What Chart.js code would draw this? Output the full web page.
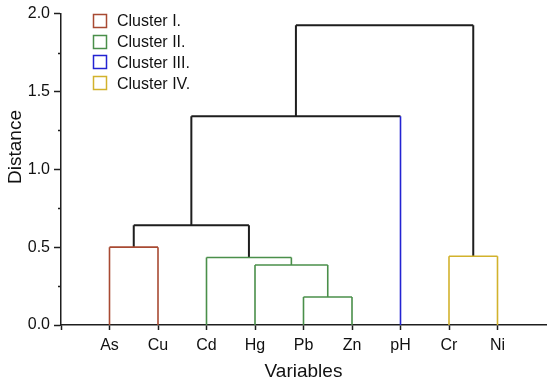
<!DOCTYPE html>
<html>
<head>
<meta charset="utf-8">
<script src="https://cdn.jsdelivr.net/npm/chart.js@4.4.1/dist/chart.umd.min.js"></script>
<style>
  html, body { margin: 0; padding: 0; background: #fff; }
  #wrap { width: 550px; height: 386px; position: relative; }
</style>
</head>
<body>
<div id="wrap"><canvas id="myChart"></canvas></div>
<script>
// Variabelen op de x-as (bladeren van het dendrogram)
const variables = ['As', 'Cu', 'Cd', 'Hg', 'Pb', 'Zn', 'pH', 'Cr', 'Ni'];
// Cluster per variabele
const leafCluster = [0, 0, 1, 1, 1, 1, 2, 3, 3];
// Samenvoegingen: linker kind, rechter kind, afstand (nieuwe knopen krijgen index 9, 10, ...)
const mergeLeft   = [0, 4, 3, 2, 9, 7, 13, 15];
const mergeRight  = [1, 5, 10, 11, 12, 8, 6, 14];
const mergeHeight = [0.50, 0.18, 0.385, 0.434, 0.641, 0.442, 1.34, 1.925];
// Legenda
const clusterNames = ['Cluster I.', 'Cluster II.', 'Cluster III.', 'Cluster IV.'];
const clusterColors = ['#a84a32', '#4a8f4a', '#2323d2', '#d2b22c'];
const yTicks = [0, 0.5, 1.0, 1.5, 2.0];

document.addEventListener("DOMContentLoaded", function() {
    const black = '#1e1e1e';
    const n = variables.length;

    // Positie, hoogte en cluster van elke knoop
    const nodeX = variables.map((v, i) => i + 1);
    const nodeH = variables.map(() => 0);
    const nodeC = leafCluster.slice();
    mergeLeft.forEach((a, k) => {
        const b = mergeRight[k];
        nodeX.push((nodeX[a] + nodeX[b]) / 2);
        nodeH.push(mergeHeight[k]);
        nodeC.push(nodeC[a] === nodeC[b] ? nodeC[a] : -1);
    });

    // Lijnstukken opbouwen
    const datasets = [];
    function seg(x1, y1, x2, y2, color) {
        datasets.push({
            data: [{x: x1, y: y1}, {x: x2, y: y2}],
            showLine: true,
            borderColor: color,
            borderWidth: color === black ? 2 : 1.6,
            pointRadius: 0,
            fill: false
        });
    }
    mergeLeft.forEach((a, k) => {
        const b = mergeRight[k];
        const node = n + k;
        const h = mergeHeight[k];
        const c = nodeC[node] >= 0 ? clusterColors[nodeC[node]] : black;
        const legColor = child => {
            if (c !== black) return c;
            if (child < n) return clusterColors[leafCluster[child]];
            return black;
        };
        seg(nodeX[a], nodeH[a], nodeX[a], h, legColor(a));
        seg(nodeX[b], nodeH[b], nodeX[b], h, legColor(b));
        seg(nodeX[a], h, nodeX[b], h, c);
    });

    // Plugin voor kleine tickjes, y-titel en legenda
    const extras = {
        id: 'extras',
        afterDraw(chart) {
            const ctx = chart.ctx;
            const ys = chart.scales.y;
            const left = chart.chartArea.left;
            ctx.save();
            // kleine tickjes
            ctx.strokeStyle = black;
            ctx.lineWidth = 1.5;
            [0.25, 0.75, 1.25, 1.75].forEach(v => {
                const py = Math.round(ys.getPixelForValue(v)) + 0.5;
                ctx.beginPath();
                ctx.moveTo(left - 3, py);
                ctx.lineTo(left, py);
                ctx.stroke();
            });
            // y-as titel
            ctx.fillStyle = '#111';
            ctx.font = '19px "Liberation Sans", Arial, sans-serif';
            ctx.translate(21, 147);
            ctx.rotate(-Math.PI / 2);
            ctx.textAlign = 'center';
            ctx.textBaseline = 'alphabetic';
            ctx.fillText('Distance', 0, 0);
            ctx.restore();

            // legenda
            ctx.save();
            ctx.font = '16px "Liberation Sans", Arial, sans-serif';
            ctx.textBaseline = 'middle';
            ctx.textAlign = 'left';
            clusterNames.forEach((name, i) => {
                const cy = 21 + i * 20.7;
                ctx.strokeStyle = clusterColors[i];
                ctx.lineWidth = 1.5;
                ctx.strokeRect(93.5, Math.round(cy - 7) + 0.5, 13, 13);
                ctx.fillStyle = '#111';
                ctx.fillText(name, 117, cy + 1);
            });
            ctx.restore();
        }
    };

    const tickFont = { family: '"Liberation Sans", Arial, sans-serif', size: 16 };

    new Chart(document.getElementById('myChart'), {
        type: 'scatter',
        data: { datasets: datasets },
        options: {
            responsive: true,
            maintainAspectRatio: false,
            animation: false,
            layout: { padding: { top: 13, right: 4, left: 0, bottom: 0 } },
            plugins: {
                legend: { display: false },
                tooltip: { enabled: false }
            },
            scales: {
                x: {
                    type: 'linear',
                    min: 0,
                    max: 10,
                    afterFit(scale) { scale.height = 61; },
                    afterBuildTicks(scale) {
                        scale.ticks = [0].concat(variables.map((v, i) => i + 1)).map(v => ({ value: v }));
                    },
                    ticks: {
                        color: '#111',
                        font: tickFont,
                        padding: 6,
                        maxRotation: 0,
                        autoSkip: false,
                        callback: value => value >= 1 ? variables[value - 1] : ''
                    },
                    grid: {
                        drawOnChartArea: false,
                        drawTicks: true,
                        tickLength: 5,
                        tickWidth: 1.5,
                        tickColor: black
                    },
                    border: { display: true, color: black, width: 1.5 },
                    title: {
                        display: true,
                        text: 'Variables',
                        color: '#111',
                        font: { family: '"Liberation Sans", Arial, sans-serif', size: 19 },
                        padding: { top: 0, bottom: 3 }
                    }
                },
                y: {
                    min: 0,
                    max: 2,
                    afterFit(scale) { scale.width = 61; },
                    afterBuildTicks(scale) {
                        scale.ticks = yTicks.map(v => ({ value: v }));
                    },
                    ticks: {
                        color: '#111',
                        font: tickFont,
                        padding: 4,
                        callback: value => value.toFixed(1)
                    },
                    grid: {
                        drawOnChartArea: false,
                        drawTicks: true,
                        tickLength: 7,
                        tickWidth: 1.5,
                        tickColor: black
                    },
                    border: { display: true, color: black, width: 1.5 }
                }
            }
        },
        plugins: [extras]
    });
});
</script>
</body>
</html>
